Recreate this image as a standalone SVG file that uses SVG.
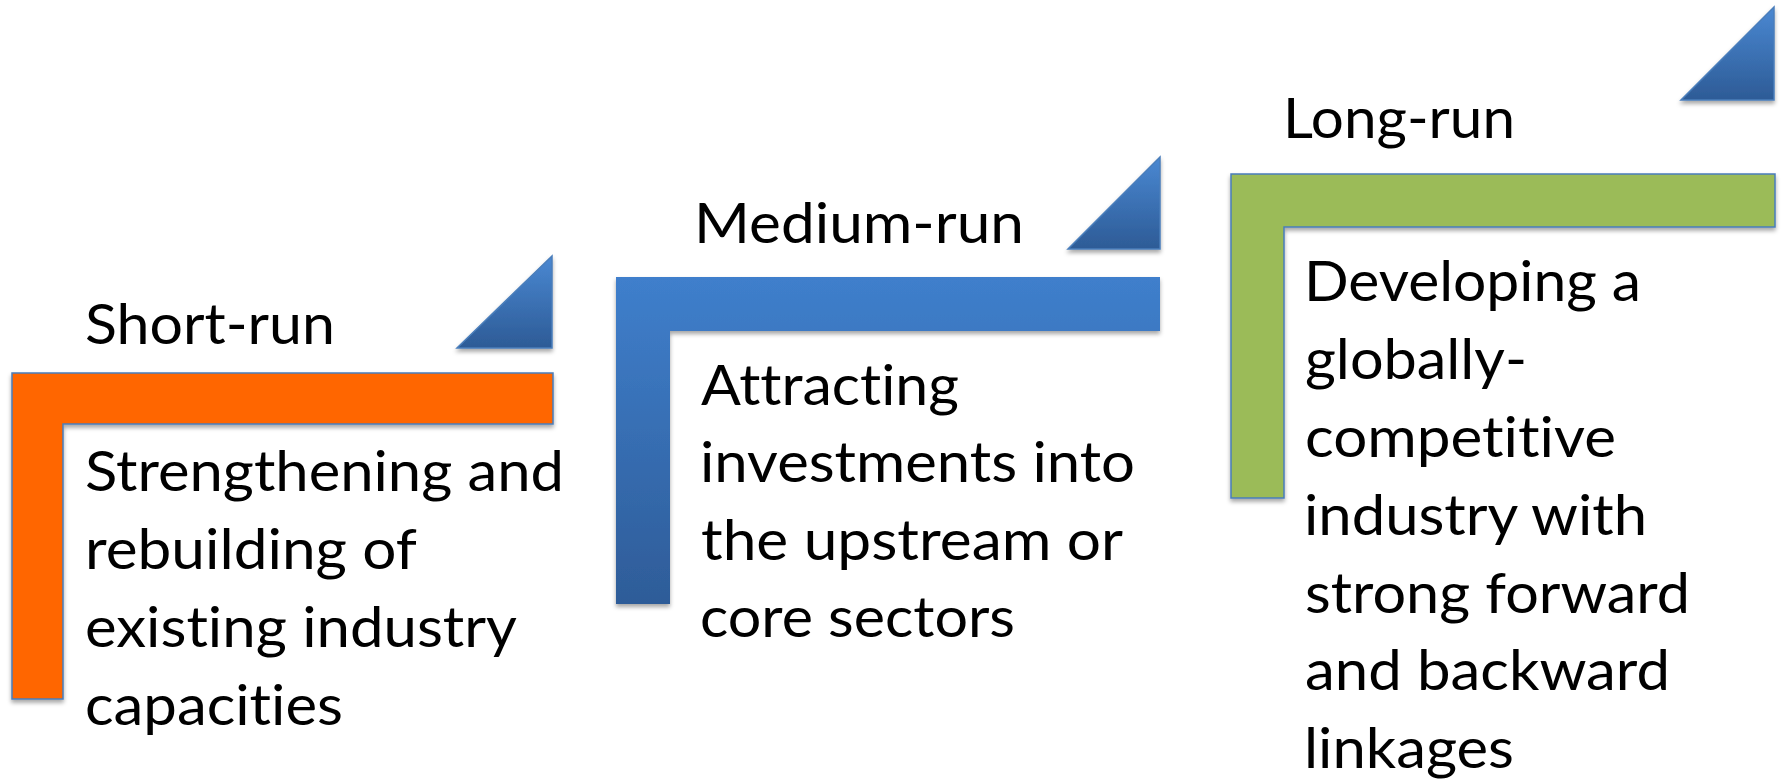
<svg xmlns="http://www.w3.org/2000/svg" width="1783" height="779" viewBox="0 0 1783 779">
  <defs>
    <style>
      text { font-family: Lato, "Open Sans", "Liberation Sans", sans-serif; font-size: 57px; fill: #000; font-variant-ligatures: none; font-feature-settings: "liga" 0, "clig" 0, "dlig" 0; }
      .edge { stroke: #4A7EBB; stroke-width: 1.5; }
    </style>
    <filter id="sh" x="-10%" y="-10%" width="120%" height="130%">
      <feDropShadow dx="0" dy="3" stdDeviation="2" flood-color="#000" flood-opacity="0.35"/>
    </filter>
    <linearGradient id="triGrad" x1="0" y1="0" x2="0" y2="1">
      <stop offset="0" stop-color="#4A88D2"/>
      <stop offset="1" stop-color="#2D5B96"/>
    </linearGradient>
    <linearGradient id="blueGrad" x1="0" y1="0" x2="0" y2="1">
      <stop offset="0" stop-color="#3F7FCC"/>
      <stop offset="1" stop-color="#2E5C98"/>
    </linearGradient>
  </defs>

  <g id="connectors"></g>

  <g id="short-run">
    <path d="M12,373 H553 V424 H63 V699 H12 Z" fill="#FF6600" class="edge" filter="url(#sh)"/>
    <path d="M552,256 V348 H457 Z" fill="url(#triGrad)" class="edge" stroke-width="1" filter="url(#sh)"/>
    <text x="85" y="344" textLength="250" lengthAdjust="spacingAndGlyphs">Short-run</text>
    <text x="85" y="491" textLength="479" lengthAdjust="spacingAndGlyphs">Strengthening and</text>
    <text x="85" y="569" textLength="332" lengthAdjust="spacingAndGlyphs">rebuilding of</text>
    <text x="85" y="647" textLength="432" lengthAdjust="spacingAndGlyphs">existing industry</text>
    <text x="85" y="725" textLength="258" lengthAdjust="spacingAndGlyphs">capacities</text>
  </g>

  <g id="medium-run">
    <path d="M616,277 H1160 V331 H670 V604 H616 Z" fill="url(#blueGrad)" filter="url(#sh)"/>
    <path d="M1160,157 V249 H1068 Z" fill="url(#triGrad)" class="edge" stroke-width="1" filter="url(#sh)"/>
    <text x="694" y="243" textLength="330" lengthAdjust="spacingAndGlyphs">Medium-run</text>
    <text x="701" y="405" textLength="258" lengthAdjust="spacingAndGlyphs">Attracting</text>
    <text x="700" y="482" textLength="435" lengthAdjust="spacingAndGlyphs">investments into</text>
    <text x="701" y="560" textLength="422" lengthAdjust="spacingAndGlyphs">the upstream or</text>
    <text x="700" y="637" textLength="315" lengthAdjust="spacingAndGlyphs">core sectors</text>
  </g>

  <g id="long-run">
    <path d="M1231,174 H1775 V227 H1284 V498 H1231 Z" fill="#9BBB59" class="edge" filter="url(#sh)"/>
    <path d="M1774,7 V100 H1681 Z" fill="url(#triGrad)" class="edge" stroke-width="1" filter="url(#sh)"/>
    <text x="1283" y="138" textLength="232" lengthAdjust="spacingAndGlyphs">Long-run</text>
    <text x="1304" y="301" textLength="337" lengthAdjust="spacingAndGlyphs">Developing a</text>
    <text x="1305" y="379" textLength="222" lengthAdjust="spacingAndGlyphs">globally-</text>
    <text x="1305" y="457" textLength="311" lengthAdjust="spacingAndGlyphs">competitive</text>
    <text x="1304" y="535" textLength="343" lengthAdjust="spacingAndGlyphs">industry with</text>
    <text x="1305" y="613" textLength="385" lengthAdjust="spacingAndGlyphs">strong forward</text>
    <text x="1305" y="690" textLength="365" lengthAdjust="spacingAndGlyphs">and backward</text>
    <text x="1304" y="768" textLength="210" lengthAdjust="spacingAndGlyphs">linkages</text>
  </g>
</svg>
